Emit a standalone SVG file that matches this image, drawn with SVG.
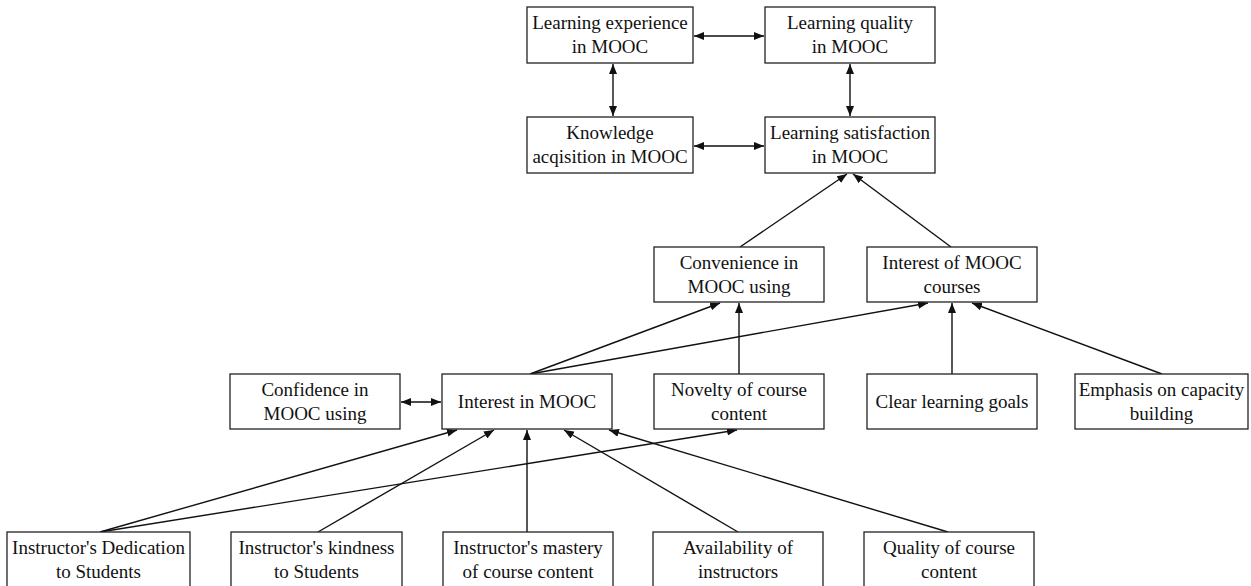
<svg xmlns="http://www.w3.org/2000/svg" width="1251" height="586" viewBox="0 0 1251 586">
<style>
.box{fill:#fff;stroke:#222;stroke-width:1.3}
.t{font-family:"Liberation Serif","Times New Roman",serif;font-size:19px;fill:#111;text-anchor:middle}
.c{stroke:#111;stroke-width:1.4;fill:none;marker-end:url(#ah)}
.b{marker-start:url(#ah)}
</style>
<defs>
<marker id="ah" viewBox="0 0 10 8" refX="10" refY="4" markerWidth="10" markerHeight="8" markerUnits="userSpaceOnUse" orient="auto-start-reverse">
<path d="M0,0 L10,4 L0,8 z" fill="#111"/>
</marker>
</defs>
<rect width="1251" height="586" fill="#fff"/>
<g id="connectors">
<line class="c b" x1="694" y1="36" x2="764" y2="36"/>
<line class="c b" x1="694" y1="146" x2="764" y2="146"/>
<line class="c b" x1="613" y1="64" x2="613" y2="116"/>
<line class="c b" x1="850" y1="64" x2="850" y2="116"/>
<line class="c" x1="740" y1="247" x2="847" y2="174"/>
<line class="c" x1="951" y1="247" x2="853" y2="174"/>
<line class="c" x1="530" y1="374" x2="720" y2="303"/>
<line class="c" x1="530" y1="374" x2="928" y2="303"/>
<line class="c" x1="739" y1="374" x2="739" y2="303"/>
<line class="c" x1="952" y1="374" x2="952" y2="303"/>
<line class="c" x1="1162" y1="374" x2="972" y2="303"/>
<line class="c b" x1="401" y1="402" x2="441" y2="402"/>
<line class="c" x1="100" y1="532" x2="457" y2="430"/>
<line class="c" x1="100" y1="532" x2="737" y2="430"/>
<line class="c" x1="318" y1="532" x2="494" y2="430"/>
<line class="c" x1="527" y1="532" x2="527" y2="430"/>
<line class="c" x1="738" y1="532" x2="564" y2="430"/>
<line class="c" x1="948" y1="532" x2="609" y2="430"/>
</g>
<g id="learning-experience"><rect class="box" x="527" y="7" width="166" height="56"/><text class="t" x="610" y="29">Learning experience</text><text class="t" x="610" y="53">in MOOC</text></g>
<g id="learning-quality"><rect class="box" x="765" y="7" width="170" height="56"/><text class="t" x="850" y="29">Learning quality</text><text class="t" x="850" y="53">in MOOC</text></g>
<g id="knowledge-acquisition"><rect class="box" x="527" y="117" width="166" height="56"/><text class="t" x="610" y="139">Knowledge</text><text class="t" x="610" y="163">acqisition in MOOC</text></g>
<g id="learning-satisfaction"><rect class="box" x="765" y="117" width="170" height="56"/><text class="t" x="850" y="139">Learning satisfaction</text><text class="t" x="850" y="163">in MOOC</text></g>
<g id="convenience"><rect class="box" x="654" y="247" width="170" height="55"/><text class="t" x="739" y="268.5">Convenience in</text><text class="t" x="739" y="292.5">MOOC using</text></g>
<g id="interest-of-courses"><rect class="box" x="867" y="247" width="170" height="55"/><text class="t" x="952" y="268.5">Interest of MOOC</text><text class="t" x="952" y="292.5">courses</text></g>
<g id="confidence"><rect class="box" x="230" y="374" width="170" height="55"/><text class="t" x="315" y="395.5">Confidence in</text><text class="t" x="315" y="419.5">MOOC using</text></g>
<g id="interest-in-mooc"><rect class="box" x="442" y="374" width="170" height="55"/><text class="t" x="527" y="408">Interest in MOOC</text></g>
<g id="novelty"><rect class="box" x="654" y="374" width="170" height="55"/><text class="t" x="739" y="395.5">Novelty of course</text><text class="t" x="739" y="419.5">content</text></g>
<g id="clear-goals"><rect class="box" x="867" y="374" width="170" height="55"/><text class="t" x="952" y="408">Clear learning goals</text></g>
<g id="emphasis"><rect class="box" x="1075" y="374" width="173" height="55"/><text class="t" x="1161.5" y="395.5">Emphasis on capacity</text><text class="t" x="1161.5" y="419.5">building</text></g>
<g id="dedication"><rect class="box" x="7" y="532" width="183" height="64"/><text class="t" x="98.5" y="554">Instructor's Dedication</text><text class="t" x="98.5" y="578">to Students</text></g>
<g id="kindness"><rect class="box" x="231" y="532" width="171" height="64"/><text class="t" x="316.5" y="554">Instructor's kindness</text><text class="t" x="316.5" y="578">to Students</text></g>
<g id="mastery"><rect class="box" x="443" y="532" width="170" height="64"/><text class="t" x="528" y="554">Instructor's mastery</text><text class="t" x="528" y="578">of course content</text></g>
<g id="availability"><rect class="box" x="653" y="532" width="170" height="64"/><text class="t" x="738" y="554">Availability of</text><text class="t" x="738" y="578">instructors</text></g>
<g id="quality"><rect class="box" x="864" y="532" width="170" height="64"/><text class="t" x="949" y="554">Quality of course</text><text class="t" x="949" y="578">content</text></g>
</svg>
